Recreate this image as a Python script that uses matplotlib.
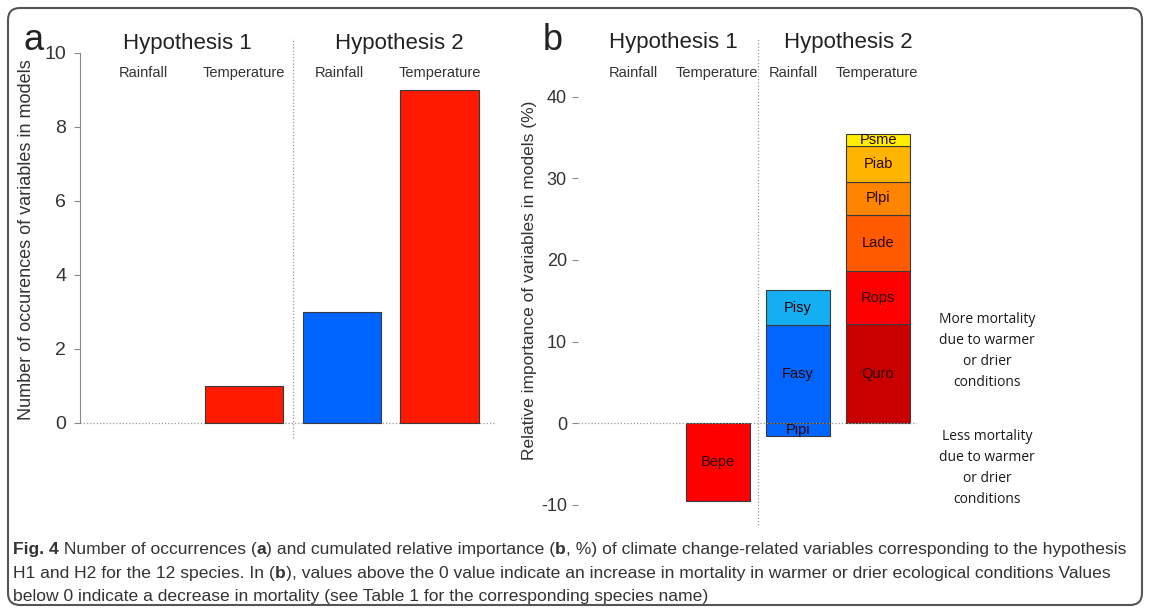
import matplotlib as mpl
mpl.use('Agg')
import matplotlib.pyplot as plt
from matplotlib.patches import FancyBboxPatch

plt.rcParams['font.family'] = ['Liberation Sans', 'DejaVu Sans']
plt.rcParams['axes.unicode_minus'] = False

# panel a : occurrences
a_positions = [0, 1, 2, 3]
a_variables = ['Rainfall', 'Temperature', 'Rainfall', 'Temperature']
a_counts = [0, 1, 3, 9]
a_colors = ['#0064FF', '#FF1A00', '#0064FF', '#FF1A00']

# panel b : relative importance (%) per species
b_species = ['Bepe', 'Pipi', 'Fasy', 'Pisy', 'Quro', 'Rops', 'Lade', 'Plpi', 'Piab', 'Psme']
b_position = [1, 2, 2, 2, 3, 3, 3, 3, 3, 3]
b_values = [-9.5, -1.6, 12.0, 4.3, 12.1, 6.6, 6.8, 4.1, 4.4, 1.5]
b_colors = ['#FF0000', '#0066FF', '#0066FF', '#14AEF2', '#C80000',
            '#FF0000', '#FF5A00', '#FF8400', '#FFB400', '#FFEE00']

hypotheses = ['Hypothesis 1', 'Hypothesis 2']

fig = plt.figure(figsize=(11.5, 6.1), dpi=100)
ax1 = fig.add_axes([0.0696, 0.2705, 0.361, 0.679])
ax2 = fig.add_axes([0.5026, 0.131, 0.295, 0.820])

edge = '#3a3a3a'
sep_style = dict(color='#9a9a9a', lw=0.9, ls=(0, (1, 1.6)), clip_on=False)

# ---- panel a
a_lw = [0.8 if c > 0 else 0 for c in a_counts]
ax1.bar(a_positions, a_counts, width=0.8, color=a_colors, edgecolor=edge, lw=a_lw, zorder=2)
ax1.set_xlim(-0.68, 3.57)
ax1.set_ylim(-0.6, 10.6)
ax1.axhline(0, color='#9a9a9a', lw=0.9, ls=(0, (1, 1.6)), zorder=1)
ax1.plot([1.5, 1.5], [-0.4, 10.4], **sep_style)
ax1.text(0.42, 10.27, hypotheses[0], ha='center', va='center', fontsize=16, color='#222222')
ax1.text(2.59, 10.27, hypotheses[1], ha='center', va='center', fontsize=16, color='#222222')
for p, v in zip(a_positions, a_variables):
    ax1.text(p - 0.03 if v == 'Rainfall' else p, 9.46, v, ha='center', va='center',
             fontsize=10.5, color='#333333')
ax1.set_yticks([0, 2, 4, 6, 8, 10])
ax1.set_xticks([])
for s in ['top', 'right', 'bottom']:
    ax1.spines[s].set_visible(False)
ax1.spines['left'].set_bounds(0, 10)
ax1.spines['left'].set_color('#888888')
ax1.tick_params(axis='y', labelsize=14, length=4, color='#888888', labelcolor='#333333', pad=6)
ax1.set_ylabel('Number of occurences of variables in models', fontsize=13, color='#333333')
ax1.yaxis.set_label_coords(-0.108, 0.495)
fig.text(34 / 1150, 1 - 41 / 610, 'a', fontsize=26, ha='center', va='center', color='#222222')

# ---- panel b
pos_top = {}
for sp, p, v, c in zip(b_species, b_position, b_values, b_colors):
    if v >= 0:
        bottom = pos_top.get(p, 0)
        pos_top[p] = bottom + v
    else:
        bottom = 0
    ax2.bar(p, v, bottom=bottom, width=0.8, color=c, edgecolor=edge, lw=0.8, zorder=2)
    ax2.text(p, bottom + v / 2, sp, ha='center', va='center', fontsize=10.5,
             color='#2a0505', zorder=3)
ax2.set_xlim(-0.75, 3.49)
ax2.set_ylim(-13.1, 48.2)
ax2.axhline(0, color='#9a9a9a', lw=0.9, ls=(0, (1, 1.6)), zorder=4)
ax2.plot([1.5, 1.5], [-12.5, 47.2], **sep_style)
ax2.text(0.44, 46.6, hypotheses[0], ha='center', va='center', fontsize=16, color='#222222')
ax2.text(2.63, 46.6, hypotheses[1], ha='center', va='center', fontsize=16, color='#222222')
for p, v in zip(a_positions, a_variables):
    ax2.text(p - 0.06 if v == 'Rainfall' else p - 0.02, 42.9, v, ha='center', va='center',
             fontsize=10.5, color='#333333')
ax2.set_yticks([-10, 0, 10, 20, 30, 40])
ax2.set_xticks([])
for s in ['top', 'right', 'bottom']:
    ax2.spines[s].set_visible(False)
ax2.spines['left'].set_visible(False)
ax2.tick_params(axis='y', labelsize=13, length=4, color='#888888', labelcolor='#333333', pad=4)
ax2.set_ylabel('Relative importance of variables in models (%)', fontsize=12.5, color='#333333')
ax2.yaxis.set_label_coords(-0.121, 0.5)
fig.text(553 / 1150, 1 - 40 / 610, 'b', fontsize=26, ha='center', va='center', color='#222222')

side = dict(ha='center', va='center', fontsize=10, color='#1a1a1a',
            family=['Open Sans', 'DejaVu Sans'], linespacing=1.55)
fig.text(987 / 1150, 1 - 351 / 610, 'More mortality\ndue to warmer\nor drier\nconditions', **side)
fig.text(987 / 1150, 1 - 468 / 610, 'Less mortality\ndue to warmer\nor drier\nconditions', **side)

# ---- caption, bold parts chained after each other
lines = [
    [('Fig. 4', True), (' Number of occurrences (', False), ('a', True),
     (') and cumulated relative importance (', False), ('b', True),
     (', %) of climate change-related variables corresponding to the hypothesis', False)],
    [('H1 and H2 for the 12 species. In (', False), ('b', True),
     ('), values above the 0 value indicate an increase in mortality in warmer or drier ecological conditions Values', False)],
    [('below 0 indicate a decrease in mortality (see Table 1 for the corresponding species name)', False)],
]
line_y = [548, 572, 595]
for segs, yy in zip(lines, line_y):
    prev = None
    for txt, bold in segs:
        kw = dict(fontsize=12.6, color='#333333',
                  fontweight='bold' if bold else 'normal', va='center_baseline', ha='left')
        if prev is None:
            prev = fig.text(13 / 1150, 1 - yy / 610, txt, **kw)
        else:
            kw['va'] = 'bottom'
            prev = ax1.annotate(txt, xy=(1, 0), xycoords=prev, annotation_clip=False, **kw)

border = FancyBboxPatch((0.08, 0.05), 11.34, 5.97, boxstyle='round,pad=0,rounding_size=0.12',
                        transform=fig.dpi_scale_trans, fill=False, ec='#555555', lw=1.5)
fig.add_artist(border)

plt.savefig('out.png', dpi=100)
